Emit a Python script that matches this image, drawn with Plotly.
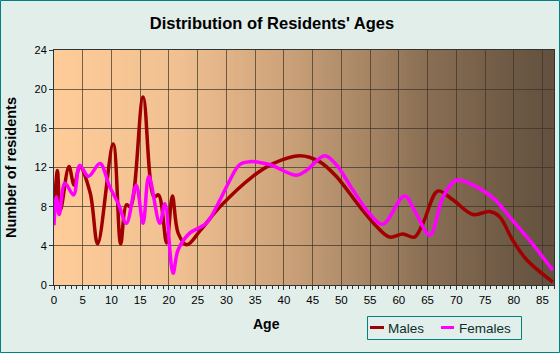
import plotly.graph_objects as go

# ---------------- data ----------------
male_age = [0, 0.6, 1.1, 2.6, 3.5, 4.5, 6.3, 7.6, 10.3, 11.6, 12.6, 13.3, 15.5, 17.4, 18.2,
            19.6, 20.6, 21.6, 23.1, 25.5, 28.9, 34.6, 38.1, 42.8, 46.2, 49.1, 53.2, 56.1,
            58.4, 60.7, 62.7, 64.2, 66.8, 69.4, 72.9, 75.8, 77.5, 79.8, 82.2, 86.8]
male_val = [7.0, 11.7, 7.6, 12.1, 10.2, 12.1, 9.4, 4.2, 14.4, 4.2, 8.2, 8.0, 19.2, 9.0, 9.2,
            4.3, 9.1, 5.3, 4.1, 5.6, 8.0, 11.1, 12.4, 13.2, 12.6, 11.1, 8.0, 6.0,
            4.9, 5.2, 4.9, 6.3, 9.6, 8.7, 7.2, 7.5, 7.0, 4.6, 2.6, 0.3]

female_age = [0, 0.4, 0.9, 1.9, 3.4, 4.5, 6.0, 8.0, 9.7, 11.2, 12.6, 14.3, 15.5, 16.5, 18.4,
              19.3, 20.7, 21.6, 23.6, 26.5, 28.9, 30.6, 32.3, 34.1, 37.5, 42.2, 43.9, 47.1,
              49.1, 52.0, 54.9, 57.2, 61.0, 63.0, 65.4, 67.7, 70.0, 72.9, 76.4, 79.8, 82.7, 86.8]
female_val = [6.1, 9.0, 7.2, 10.4, 9.2, 12.2, 11.1, 12.4, 10.0, 8.3, 6.3, 10.2, 6.3, 11.1, 6.3,
              8.3, 1.2, 3.6, 5.3, 6.3, 8.7, 10.7, 12.3, 12.6, 12.3, 11.2, 11.7, 13.2,
              12.3, 9.7, 7.3, 6.2, 9.1, 7.3, 5.1, 9.0, 10.7, 10.2, 8.9, 6.6, 4.6, 1.5]

x_ticks = list(range(0, 90, 5))
y_ticks = [0, 4, 8, 12, 16, 20, 24]
x_range = [0, 87]
y_range = [0, 24]

TITLE = "Distribution of Residents' Ages"
FONT = "Liberation Sans, Arial, sans-serif"

# ---------------- layout helpers ----------------
W, H = 560, 353
L, R, T, B = 54, 6, 50, 68
PW, PH = W - L - R, H - T - B


def px_x(p):
    return (p - L) / PW


def px_y(p):
    return (H - B - p) / PH


fig = go.Figure()

fig.add_trace(go.Scatter(x=male_age, y=male_val, mode="lines", name="Males",
                         showlegend=False,
                         line=dict(color="#a00000", width=3.5, shape="spline", smoothing=1.0)))
fig.add_trace(go.Scatter(x=female_age, y=female_val, mode="lines", name="Females",
                         showlegend=False,
                         line=dict(color="#ff00ff", width=3.5, shape="spline", smoothing=1.0)))

# gradient background (left peach -> right dark brown)
stops = [(0.0, (255, 204, 153)), (0.25, (240, 192, 145)), (0.45, (207, 164, 123)),
         (0.6, (172, 138, 104)), (0.75, (137, 110, 83)), (0.9, (112, 91, 70)),
         (1.0, (98, 80, 62))]


def grad(t):
    for (p0, c0), (p1, c1) in zip(stops[:-1], stops[1:]):
        if p0 <= t <= p1:
            f = (t - p0) / (p1 - p0)
            return "rgb(%d,%d,%d)" % tuple(round(a + (b - a) * f) for a, b in zip(c0, c1))
    return "rgb(%d,%d,%d)" % stops[-1][1]


shapes = []
N = 125
for i in range(N):
    shapes.append(dict(type="rect", xref="paper", yref="paper", layer="below",
                       x0=i / N, x1=(i + 1) / N + 0.002, y0=0, y1=1,
                       fillcolor=grad((i + 0.5) / N), line=dict(width=0)))

# outer border of the image
shapes.append(dict(type="rect", xref="paper", yref="paper",
                   x0=px_x(0.5), x1=px_x(W - 0.5), y0=px_y(H - 0.5), y1=px_y(0.5),
                   line=dict(color="#008080", width=1), fillcolor="rgba(0,0,0,0)"))

# legend box and samples
shapes.append(dict(type="rect", xref="paper", yref="paper",
                   x0=px_x(367.5), x1=px_x(521.5), y0=px_y(339.5), y1=px_y(316.5),
                   line=dict(color="#008080", width=1), fillcolor="rgba(0,0,0,0)"))
shapes.append(dict(type="line", xref="paper", yref="paper",
                   x0=px_x(370), x1=px_x(384), y0=px_y(327.5), y1=px_y(327.5),
                   line=dict(color="#a00000", width=3)))
shapes.append(dict(type="line", xref="paper", yref="paper",
                   x0=px_x(441), x1=px_x(454), y0=px_y(327.5), y1=px_y(327.5),
                   line=dict(color="#ff00ff", width=3)))

annotations = [
    dict(text="Males", xref="paper", yref="paper", x=px_x(386), y=px_y(328),
         xanchor="left", yanchor="middle", showarrow=False,
         font=dict(family=FONT, size=13.5, color="#0a2e2e")),
    dict(text="Females", xref="paper", yref="paper", x=px_x(457), y=px_y(328),
         xanchor="left", yanchor="middle", showarrow=False,
         font=dict(family=FONT, size=13.5, color="#0a2e2e")),
    dict(text="Age", xref="paper", yref="paper", x=px_x(266), y=px_y(324),
         xanchor="center", yanchor="middle", showarrow=False,
         font=dict(family=FONT, size=14, color="#000000", weight="bold")),
]

fig.update_layout(
    width=W, height=H,
    margin=dict(l=L, r=R, t=T, b=B, pad=0),
    paper_bgcolor="#e2eeea",
    plot_bgcolor="rgba(0,0,0,0)",
    title=dict(text=TITLE, x=272 / W, xref="container", xanchor="center",
               y=1 - 23 / H, yref="container", yanchor="middle",
               font=dict(family=FONT, size=16.5, color="#000000", weight="bold")),
    shapes=shapes,
    annotations=annotations,
    showlegend=False,
    xaxis=dict(range=x_range, tickvals=x_ticks, ticktext=[str(v) for v in x_ticks],
               showgrid=True, gridcolor="rgba(60,50,40,0.7)", gridwidth=1,
               showline=True, linecolor="#333333", linewidth=1, mirror=True,
               ticks="outside", ticklen=4, tickcolor="#333333",
               minor=dict(dtick=1, ticks="outside", ticklen=3, tickcolor="#333333", showgrid=False),
               tickfont=dict(family=FONT, size=11.5, color="#000000"),
               zeroline=False, fixedrange=True),
    yaxis=dict(range=y_range, tickvals=y_ticks, ticktext=[str(v) for v in y_ticks],
               showgrid=True, gridcolor="rgba(60,50,40,0.7)", gridwidth=1,
               showline=True, linecolor="#333333", linewidth=1, mirror=True,
               ticks="outside", ticklen=4, tickcolor="#333333",
               tickfont=dict(family=FONT, size=11, color="#000000"),
               title=dict(text="Number of residents", standoff=14,
                          font=dict(family=FONT, size=14.5, color="#000000", weight="bold")),
               zeroline=False, fixedrange=True),
)

fig.write_html("out.html")
